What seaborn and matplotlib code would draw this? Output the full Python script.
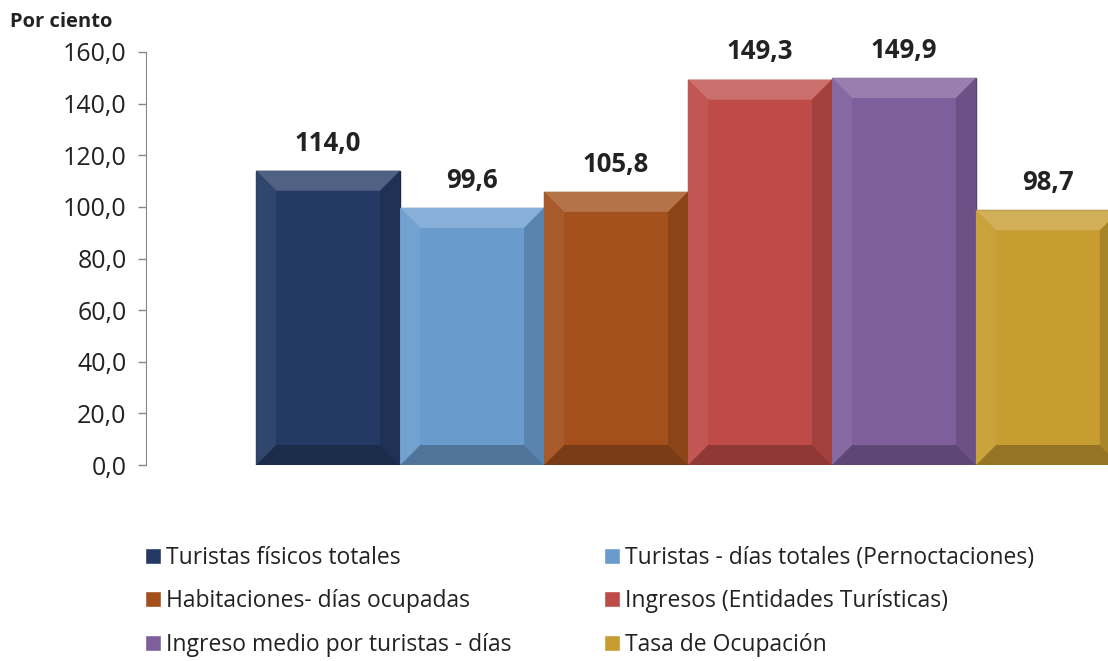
import matplotlib.pyplot as plt
import matplotlib.colors as mcolors
from matplotlib.patches import Polygon
import seaborn as sns
import pandas as pd

# Datos del gráfico
series = ['Turistas físicos totales',
          'Turistas - días totales (Pernoctaciones)',
          'Habitaciones- días ocupadas',
          'Ingresos (Entidades Turísticas)',
          'Ingreso medio por turistas - días',
          'Tasa de Ocupación']
valores = [114.0, 99.6, 105.8, 149.3, 149.9, 98.7]
colores = ['#243a64', '#6a9bcd', '#a3501c', '#be4b48', '#7e5f9c', '#c79c30']

df = pd.DataFrame({'cat': [''] * len(series), 'serie': series, 'valor': valores})

sns.set_style('white')
plt.rcParams['font.family'] = ['Open Sans', 'DejaVu Sans']

fig = plt.figure(figsize=(11.08, 6.61), dpi=100)
ax = fig.add_axes([146 / 1108, 1 - 465 / 661, 962 / 1108, 413 / 661])

sns.barplot(data=df, x='cat', y='valor', hue='serie', hue_order=series,
            palette=colores, width=0.8, ax=ax, legend=True, saturation=1)

ax.set_ylim(0, 160)
ax.set_xlim(-0.502, 0.389)


def mezcla(c, otro, t):
    a = mcolors.to_rgb(c)
    b = mcolors.to_rgb(otro)
    return tuple(a[i] * (1 - t) + b[i] * t for i in range(3))


# biselado aproximado, a partir de la geometría de cada barra
bx = 20 / 1080
by = 20 / (413 / 160)
for bar, col in zip(ax.patches, colores):
    x0, y0 = bar.get_x(), bar.get_y()
    x1, y1 = x0 + bar.get_width(), y0 + bar.get_height()
    bar.set_edgecolor(mezcla(col, 'black', 0.3))
    bar.set_linewidth(1)
    caras = [
        ([(x0, y1), (x1, y1), (x1 - bx, y1 - by), (x0 + bx, y1 - by)], mezcla(col, 'white', 0.2)),
        ([(x0, y0), (x1, y0), (x1 - bx, y0 + by), (x0 + bx, y0 + by)], mezcla(col, 'black', 0.25)),
        ([(x0, y0), (x0, y1), (x0 + bx, y1 - by), (x0 + bx, y0 + by)], mezcla(col, 'white', 0.06)),
        ([(x1, y0), (x1, y1), (x1 - bx, y1 - by), (x1 - bx, y0 + by)], mezcla(col, 'black', 0.15)),
    ]
    for pts, fc in caras:
        ax.add_patch(Polygon(pts, closed=True, facecolor=fc, edgecolor='none',
                             zorder=bar.get_zorder() + 0.1))

for bar, v in zip(ax.patches[:len(valores)], valores):
    ax.text(bar.get_x() + bar.get_width() / 2, v + 5.5,
            f'{v:.1f}'.replace('.', ','), ha='center', va='bottom',
            fontsize=18.5, fontweight='bold', color='#222222')

ax.set_yticks(range(0, 161, 20))
ax.set_yticklabels([f'{t},0' for t in range(0, 161, 20)], fontsize=18, color='#222222')
ax.set_xticks([])
ax.set_xlabel('')
ax.set_ylabel('')
sns.despine(ax=ax, top=True, right=True, bottom=True)
ax.spines['left'].set_color('#888888')
ax.tick_params(axis='y', left=True, length=6, color='#888888', width=1, pad=8)

fig.text(10 / 1108, 1 - 22 / 661, 'Por ciento', fontsize=14.5, fontweight='bold',
         color='#222222', va='center')

handles, labels = ax.get_legend_handles_labels()
ax.get_legend().remove()
orden = [0, 2, 4, 1, 3, 5]
fig.legend([handles[i] for i in orden], [labels[i] for i in orden], ncol=2,
           loc='upper left', bbox_to_anchor=(124 / 1108, 1 - 525 / 661),
           frameon=False, fontsize=16.5, handlelength=0.7, handleheight=0.7,
           handletextpad=0.25, columnspacing=4.0, labelspacing=0.86,
           labelcolor='#222222')

fig.savefig('out.png', dpi=100)
